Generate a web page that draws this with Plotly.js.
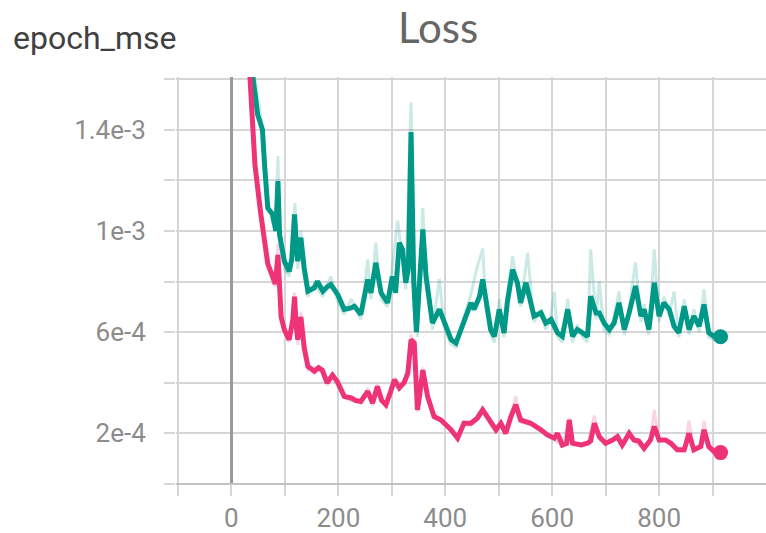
<!DOCTYPE html>
<html>
<head>
<meta charset="utf-8">
<script src="https://cdn.plot.ly/plotly-3.0.1.min.js"></script>
<style>html,body{margin:0;padding:0;background:#fff;}#chart{width:766px;height:533px;}</style>
</head>
<body>
<div id="chart"></div>
<script>
// Values are in units of 1e-4 (epoch_mse)
const tealX = [0,10,20,30,40,49,55,58,62,68,77,83,87,90,99,108,113,118,121,124,130,136,143,155,161,171,180,186,199,211,224,230,242,255,261,270,280,292,301,307,314,320,326,331,336,341,346,352,358,364,376,389,398,411,420,435,448,454,464,470,476,485,492,501,510,516,526,535,541,551,557,566,579,588,598,610,619,629,638,647,657,666,672,682,688,697,707,716,725,735,744,756,766,772,781,791,800,809,819,828,837,847,856,865,875,884,893,903,915];
const tealY = [38,30,24,19.5,16.1,14.6,14.2,14.0,12.6,10.9,10.65,10.0,11.97,9.86,8.8,8.4,8.9,10.65,9.6,8.8,9.73,8.54,7.62,7.75,8.0,7.62,7.8,7.88,7.48,6.9,6.96,7.02,6.7,8.08,7.55,8.74,7.55,7.16,8.2,7.55,9.53,9.27,7.95,8.5,13.9,8.0,6.0,8.0,10.06,8.2,6.36,6.9,6.36,5.7,5.57,6.36,7.16,6.9,7.4,8.08,7.16,6.1,5.83,6.9,5.97,7.16,8.47,7.95,7.16,7.95,7.42,6.63,6.76,6.36,6.5,5.97,5.83,6.9,5.83,6.1,5.97,5.83,7.42,6.76,6.76,6.36,6.1,6.36,7.16,6.1,6.76,7.82,6.63,6.9,6.1,7.95,6.63,7.16,6.9,6.23,5.97,7.02,6.1,6.63,6.23,7.09,5.97,5.83,5.82];

const tealRawX = [0,20,40,49,55,62,68,77,83,87,90,99,108,113,119,124,130,136,143,155,171,186,199,211,224,242,255,261,270,280,292,301,311,320,326,336,342,348,358,364,376,389,398,411,420,435,448,460,470,476,485,492,501,510,516,526,535,541,554,566,579,588,598,604,610,619,629,638,647,657,666,672,682,688,697,707,716,725,735,744,756,766,772,781,791,800,809,819,828,837,847,856,865,875,884,893,903,915];
const tealRawY = [40,25,16.5,15.2,14.5,12.8,11.2,10.3,10.2,12.96,9.6,8.5,8.2,9.5,11.1,8.5,10.0,8.3,7.4,7.9,7.4,8.2,7.2,6.7,7.3,6.5,8.87,7.3,9.53,7.3,7.0,8.6,10.4,8.8,7.7,15.07,7.4,5.8,10.9,8.0,6.1,8.1,6.2,5.5,5.4,6.6,7.5,8.6,9.3,7.0,5.9,5.6,7.3,5.8,7.5,9.0,7.7,7.0,9.13,6.4,6.9,6.1,6.7,7.6,5.8,5.6,7.3,5.6,6.3,5.8,5.6,9.27,6.5,8.0,6.1,5.9,6.6,7.6,5.9,7.0,8.75,6.4,7.1,5.9,9.27,6.4,7.4,6.7,7.6,5.8,7.3,5.9,6.9,6.0,7.69,5.8,5.7,5.75];

const pinkX = [0,10,20,30,34,44,55,62,68,77,82,87,90,93,99,108,115,118,121,124,130,136,143,155,163,170,179,189,198,211,224,232,242,255,264,273,281,289,298,305,314,323,330,336,342,348,352,358,367,379,392,411,423,435,448,460,470,482,495,504,513,523,532,541,551,560,579,591,604,610,619,627,632,638,654,666,672,679,688,700,713,722,731,744,753,762,772,784,791,800,812,822,834,847,856,865,878,884,893,903,915];
const pinkY = [36,28,22,17.8,16.1,12.6,10.65,9.6,8.7,8.2,7.9,9.05,8.0,6.6,6.1,5.7,6.5,7.4,6.3,5.7,6.6,5.4,4.65,4.45,4.6,4.5,4.0,4.3,4.05,3.46,3.4,3.3,3.26,3.66,3.2,3.85,3.3,3.13,3.66,4.12,3.8,4.0,4.38,5.7,5.58,2.93,3.5,4.5,3.46,2.67,2.53,2.14,1.81,2.4,2.4,2.6,2.93,2.53,2.14,2.4,2.0,2.67,3.13,2.53,2.47,2.4,2.14,1.94,1.81,2.0,1.54,1.6,2.53,1.61,1.54,1.61,1.7,2.4,1.87,1.61,1.74,1.87,1.54,2.0,1.74,1.7,1.41,1.74,2.27,1.74,1.74,1.61,1.35,1.35,2.0,1.35,1.48,2.14,1.48,1.28,1.24];

const pinkRawX = [0,20,34,44,55,62,68,77,82,87,90,93,99,108,118,124,130,136,143,155,170,179,189,198,211,224,242,255,264,273,289,298,305,314,323,330,336,342,348,358,367,379,392,411,423,435,448,460,470,482,495,504,513,523,532,541,551,560,579,591,604,619,632,638,654,666,679,688,700,713,722,731,744,753,772,784,791,800,812,822,834,847,856,865,878,884,893,903,915];
const pinkRawY = [40,24,16.3,12.4,10.5,9.4,8.6,8.0,7.8,9.5,7.8,6.4,6.0,5.6,7.55,5.5,6.8,5.3,4.5,4.6,4.4,3.9,4.4,3.9,3.4,3.3,3.2,3.8,3.1,3.95,3.0,3.7,4.2,3.7,4.1,4.5,5.9,5.4,2.85,4.6,3.4,2.6,2.5,2.05,1.75,2.45,2.3,2.7,3.0,2.45,2.05,2.45,1.95,2.75,3.46,2.45,2.4,2.35,2.1,1.9,1.75,1.5,2.6,1.55,1.5,1.6,2.7,1.8,1.55,1.75,1.9,1.5,2.05,1.7,1.38,1.75,2.93,1.7,1.75,1.6,1.3,1.3,2.5,1.3,1.45,2.5,1.45,1.25,1.22];

const xTickVals = [-100,0,100,200,300,400,500,600,700,800,900];
const xTickText = ['','0','','200','','400','','600','','800',''];
const yTickVals = [0,2e-4,4e-4,6e-4,8e-4,1e-3,1.2e-3,1.4e-3,1.6e-3];
const yTickText = ['','2e-4','','6e-4','','1e-3','','1.4e-3',''];

const TEAL = '#009988';
const PINK = '#ee3377';
const e4 = a => a.map(v => v * 1e-4);

const traces = [
  {x: tealRawX, y: e4(tealRawY), mode:'lines', line:{color:TEAL, width:3}, opacity:0.2, hoverinfo:'skip'},
  {x: pinkRawX, y: e4(pinkRawY), mode:'lines', line:{color:PINK, width:3}, opacity:0.2, hoverinfo:'skip'},
  {x: tealX, y: e4(tealY), mode:'lines', line:{color:TEAL, width:5}},
  {x: pinkX, y: e4(pinkY), mode:'lines', line:{color:PINK, width:5}},
  {x: [tealX[tealX.length-1]], y: e4([tealY[tealY.length-1]]), mode:'markers', marker:{color:TEAL, size:15}, cliponaxis:false},
  {x: [pinkX[pinkX.length-1]], y: e4([pinkY[pinkY.length-1]]), mode:'markers', marker:{color:PINK, size:15}, cliponaxis:false}
];

const GRID = '#d6d6d6';
const tickFont = {family:'Roboto, sans-serif', size:26, color:'#8c8c8c'};

const layout = {
  width:766, height:533,
  paper_bgcolor:'#ffffff', plot_bgcolor:'#ffffff',
  showlegend:false,
  margin:{l:176, r:0, t:77, b:49, pad:0},
  title:{text:'Loss', font:{family:'Lato, sans-serif', size:42, color:'#666666'},
         xref:'container', x:438/766, xanchor:'center', yref:'container', y:1-28/533, yanchor:'middle'},
  xaxis:{range:[-103.7,1000], tickmode:'array', tickvals:xTickVals, ticktext:xTickText,
         ticks:'outside', ticklen:11, tickwidth:2, tickcolor:GRID,
         showgrid:true, gridcolor:GRID, gridwidth:2,
         zeroline:true, zerolinecolor:'#9a9a9a', zerolinewidth:2.5,
         showline:false, tickfont:tickFont, ticklabelstandoff:0, fixedrange:true},
  yaxis:{range:[0,1.6079e-3], tickmode:'array', tickvals:yTickVals, ticktext:yTickText,
         ticks:'outside', ticklen:11, tickwidth:2, tickcolor:GRID,
         showgrid:true, gridcolor:GRID, gridwidth:2,
         zeroline:true, zerolinecolor:'#c2c2c2', zerolinewidth:2.5,
         showline:false, tickfont:tickFont, ticklabelstandoff:13, fixedrange:true},
  annotations:[{text:'epoch_mse', xref:'paper', yref:'paper', x:(11-176)/590, y:(484-38)/407,
                xanchor:'left', yanchor:'middle', showarrow:false,
                font:{family:'Roboto, sans-serif', size:32, color:'#404040'}}]
};

Plotly.newPlot('chart', traces, layout, {displayModeBar:false, staticPlot:true});
</script>
</body>
</html>
